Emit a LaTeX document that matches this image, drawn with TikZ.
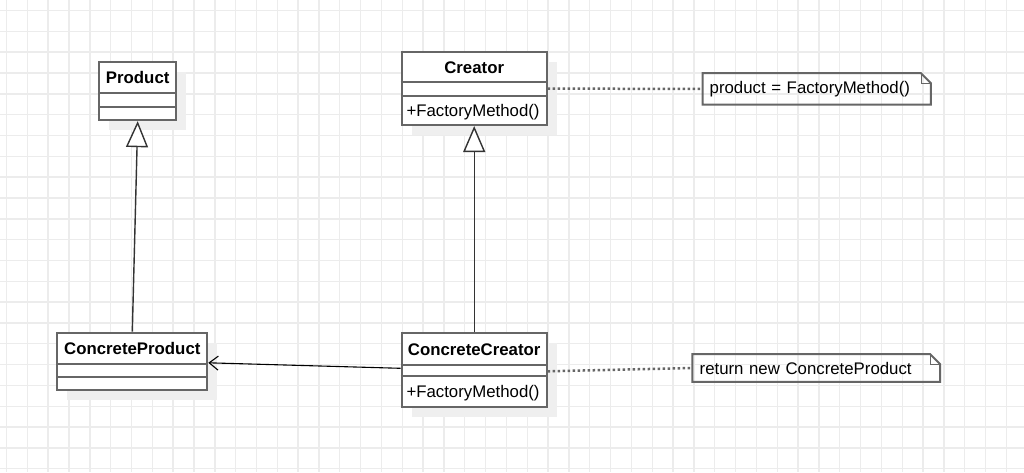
\documentclass[tikz,border=0pt]{standalone}
\usepackage{fontspec}
\setmainfont{Liberation Sans}
\usetikzlibrary{arrows.meta,shadows}

\definecolor{gridgray}{HTML}{ECECEC}
\definecolor{boxgray}{HTML}{666666}
\definecolor{shadowgray}{HTML}{EFEFEF}
\definecolor{linegray}{HTML}{333333}

\tikzset{
  gridline/.style={gridgray, line width=1.4pt},
  classbox/.style={draw=boxgray, line width=2pt, fill=white, inner sep=0pt,
    drop shadow={shadow xshift=10pt, shadow yshift=-10pt, fill=shadowgray, opacity=1}},
  classline/.style={boxgray, line width=2pt},
  classname/.style={inner sep=0pt, font=\fontsize{16.8pt}{20pt}\selectfont\bfseries},
  classop/.style={inner sep=0pt, anchor=west, font=\fontsize{16.8pt}{20pt}\selectfont},
  notebox/.style={inner xsep=7pt, inner ysep=0pt, align=left, font=\fontsize{16.8pt}{20pt}\selectfont},
  noteline/.style={boxgray, line width=2pt, line join=miter},
  notefold/.style={boxgray, line width=0.8pt},
  inherit/.style={linegray, line width=1.4pt, -{Triangle[open, fill=white, length=26pt, width=22pt]}},
  assoc/.style={black, line width=1.1pt, -{Straight Barb[length=9pt, width=14pt]}},
  anchorline/.style={boxgray, line width=2.5pt, dash pattern=on 2.5pt off 2.5pt}
}

\begin{document}
\begin{tikzpicture}[x=1pt, y=-1pt]
\useasboundingbox[fill=white] (0,0) rectangle (1024,472);

% background grid
\foreach \gx in {0,...,49}
  \draw[gridline] ({6.5+20.83*\gx},0) -- ({6.5+20.83*\gx},472);
\foreach \gy in {0,...,22}
  \draw[gridline] (0,{10.5+20.83*\gy}) -- (1024,{10.5+20.83*\gy});

% classes
\node[classbox, minimum width=76.7pt, minimum height=58.3pt] (product) at (137.7,91) {};
\node[classname] (product-name) at ([yshift=-17pt]product.north) {Product};
\draw[classline] ([yshift=-32.6pt]product.north west) -- ([yshift=-32.6pt]product.north east);
\draw[classline] ([yshift=-46pt]product.north west) -- ([yshift=-46pt]product.north east);

\node[classbox, minimum width=145pt, minimum height=72.7pt] (creator) at (474.2,88.7) {};
\node[classname] (creator-name) at ([yshift=-16.3pt]creator.north) {Creator};
\draw[classline] ([yshift=-31pt]creator.north west) -- ([yshift=-31pt]creator.north east);
\draw[classline] ([yshift=-44.4pt]creator.north west) -- ([yshift=-44.4pt]creator.north east);
\node[classop] (creator-op) at ([xshift=5.6pt, yshift=-60.5pt]creator.north west) {+FactoryMethod()};

\node[classbox, minimum width=150pt, minimum height=57.3pt] (cproduct) at (132.3,361.3) {};
\node[classname] (cproduct-name) at ([yshift=-17pt]cproduct.north) {ConcreteProduct};
\draw[classline] ([yshift=-32.3pt]cproduct.north west) -- ([yshift=-32.3pt]cproduct.north east);
\draw[classline] ([yshift=-45.6pt]cproduct.north west) -- ([yshift=-45.6pt]cproduct.north east);

\node[classbox, minimum width=145pt, minimum height=74pt] (ccreator) at (474.2,370.3) {};
\node[classname] (ccreator-name) at ([yshift=-17pt]ccreator.north) {ConcreteCreator};
\draw[classline] ([yshift=-32.4pt]ccreator.north west) -- ([yshift=-32.4pt]ccreator.north east);
\draw[classline] ([yshift=-44pt]ccreator.north west) -- ([yshift=-44pt]ccreator.north east);
\node[classop] (ccreator-op) at ([xshift=5.6pt, yshift=-61pt]ccreator.north west) {+FactoryMethod()};

% notes
\node[notebox, minimum width=228pt, minimum height=31pt, text width=214pt] (note1) at (816.7,88.8) {\raisebox{-1.5pt}{product = FactoryMethod()}};
\draw[noteline] (note1.north west) -- ([xshift=-10pt]note1.north east) -- ([yshift=-10pt]note1.north east)
  -- (note1.south east) -- (note1.south west) -- cycle;
\draw[notefold] ([xshift=-10pt]note1.north east) |- ([yshift=-10pt]note1.north east);

\node[notebox, minimum width=247.3pt, minimum height=27.4pt, text width=233.3pt] (note2) at (816.3,368) {\raisebox{-1pt}{return new ConcreteProduct}};
\draw[noteline] (note2.north west) -- ([xshift=-10pt]note2.north east) -- ([yshift=-10pt]note2.north east)
  -- (note2.south east) -- (note2.south west) -- cycle;
\draw[notefold] ([xshift=-10pt]note2.north east) |- ([yshift=-10pt]note2.north east);

% connectors
\draw[inherit] (cproduct.north) -- (product.south);
\draw[inherit] (ccreator.north) -- (creator.south);
\draw[assoc] ([yshift=2pt]ccreator.west) -- ([yshift=-1.5pt]cproduct.east);
\draw[anchorline] (creator.east) -- (note1.west);
\draw[anchorline] ([yshift=-1pt]ccreator.east) -- (note2.west);
\end{tikzpicture}
\end{document}
